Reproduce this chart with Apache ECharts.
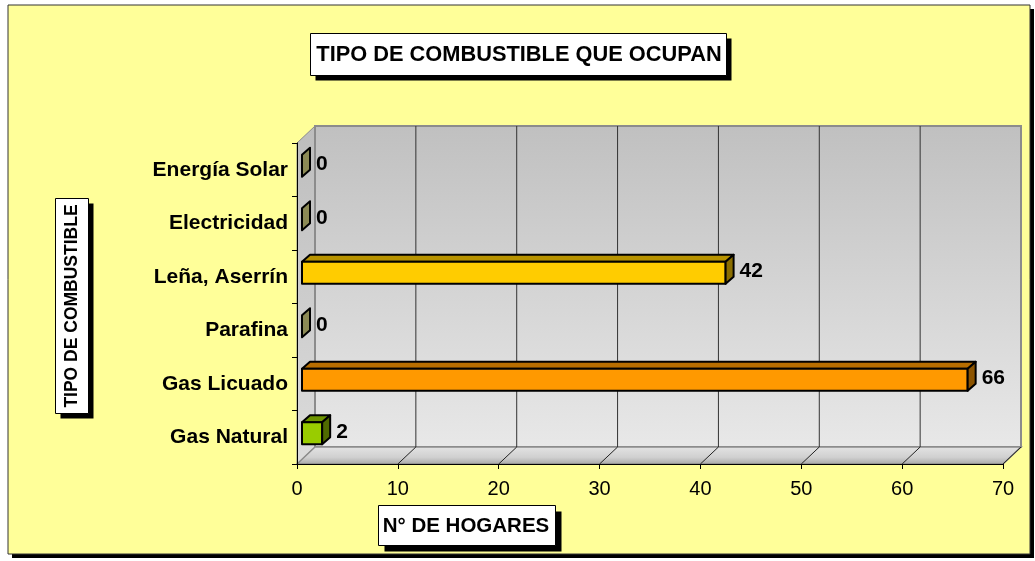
<!DOCTYPE html>
<html>
<head>
<meta charset="utf-8">
<script src="https://cdn.jsdelivr.net/npm/echarts@6/dist/echarts.min.js"></script>
<style>
  html, body { margin: 0; padding: 0; background: #fff; }
  #chart { width: 1035px; height: 561px; }
</style>
</head>
<body>
<div id="chart"></div>
<script>
// datos del gráfico
const categories = ["Gas Natural", "Gas Licuado", "Parafina", "Leña, Aserrín", "Electricidad", "Energía Solar"];
const hogares = [2, 66, 0, 42, 0, 0];
const xTicks = [0, 10, 20, 30, 40, 50, 60, 70];

const FONT = "'Liberation Sans', Arial, sans-serif";
// colores por categoria: frente, techo, lado
const frontColors = ["#99CC00", "#FF9900", "#C8C684", "#FFCC00", "#C8C684", "#C8C684"];
const topColors = ["#6E9400", "#B86E00", "#9C9A60", "#B89300", "#9C9A60", "#9C9A60"];
const sideColors = ["#4F6A00", "#8C5400", "#8C8A55", "#8A6E00", "#8C8A55", "#8C8A55"];

const WALL = [18, -17]; // profundidad del 3D
const BAR_OFF = [5, -4];
const BAR_DEPTH = [8, -7];
const BAR_H = 22;

let myChart = echarts.init(document.getElementById("chart"));

function boxWithShadow(x, y, w, h, off) {
  return [
    { type: "rect", z: 50, shape: { x: x + off, y: y + off, width: w, height: h }, style: { fill: "#000" } },
    { type: "rect", z: 51, shape: { x: x, y: y, width: w, height: h }, style: { fill: "#fff", stroke: "#000", lineWidth: 1 } },
  ];
}

myChart.setOption({
  backgroundColor: "#fff",
  animation: false,
  grid: {
    left: 297,
    right: 32,
    top: 143,
    bottom: 97,
  },
  graphic: [
    // fondo amarillo con sombra
    { type: "rect", z: -20, shape: { x: 12, y: 9, width: 1022, height: 549 }, style: { fill: "#000" } },
    { type: "rect", z: -19, shape: { x: 8, y: 5, width: 1022, height: 549 }, style: { fill: "#FFFF99", stroke: "#333", lineWidth: 1 } },
    // titulo
    ...boxWithShadow(310.5, 33.5, 416, 42, 5),
    { type: "text", z: 52, x: 519, y: 55, style: { text: "TIPO DE COMBUSTIBLE QUE OCUPAN", font: "bold 21.8px " + FONT, fill: "#000", align: "center", verticalAlign: "middle" } },
    // titulo eje y
    ...boxWithShadow(55.5, 198.5, 33, 215, 5),
    { type: "text", z: 52, x: 72, y: 306, rotation: Math.PI / 2, style: { text: "TIPO DE COMBUSTIBLE", font: "bold 17.5px " + FONT, fill: "#000", align: "center", verticalAlign: "middle" } },
    // titulo eje x
    ...boxWithShadow(378.5, 505.5, 177, 40, 6),
    { type: "text", z: 52, x: 466, y: 526, style: { text: "N° DE HOGARES", font: "bold 20.5px " + FONT, fill: "#000", align: "center", verticalAlign: "middle" } },
  ],
  xAxis: {
    type: "value",
    min: 0,
    max: 70,
    interval: 10,
    z: 10,
    splitLine: { show: false },
    axisLine: { show: true, lineStyle: { color: "#000", width: 1 } },
    axisTick: { show: true, length: 5, lineStyle: { color: "#000" } },
    axisLabel: { margin: 15, fontFamily: FONT, fontSize: 20, color: "#000" },
  },
  yAxis: {
    type: "category",
    data: categories,
    z: 10,
    axisLine: { show: true, lineStyle: { color: "#000", width: 1 } },
    axisTick: { show: true, length: 5, lineStyle: { color: "#000" } },
    axisLabel: {
      margin: 9,
      fontFamily: FONT,
      fontSize: 21,
      fontWeight: "bold",
      color: "#000",
      padding: [0, 0, 12, 0],
    },
  },
  series: [
    {
      // paredes del grafico 3D
      type: "custom",
      z: 1,
      silent: true,
      clip: false,
      data: [[0, 0]],
      renderItem: function (params, api) {
        const cs = params.coordSys;
        const L = cs.x, T = cs.y, R = cs.x + cs.width, B = cs.y + cs.height;
        const dx = WALL[0], dy = WALL[1];
        const children = [];
        // pared lateral
        children.push({
          type: "polygon",
          shape: { points: [[L, T], [L + dx, T + dy], [L + dx, B + dy], [L, B]] },
          style: {
            fill: new echarts.graphic.LinearGradient(0, 0, 0, 1, [
              { offset: 0, color: "#BDBDBD" },
              { offset: 1, color: "#DCDCDC" },
            ]),
            stroke: "#8C8C8C",
            lineWidth: 1,
          },
        });
        // pared de fondo
        children.push({
          type: "rect",
          shape: { x: L + dx, y: T + dy, width: R - L, height: B - T },
          style: {
            fill: new echarts.graphic.LinearGradient(0, 0, 0, 1, [
              { offset: 0, color: "#C0C0C0" },
              { offset: 1, color: "#E8E8E8" },
            ]),
            stroke: "#8C8C8C",
            lineWidth: 2,
          },
        });
        // piso
        children.push({
          type: "polygon",
          shape: { points: [[L, B], [L + dx, B + dy], [R + dx, B + dy], [R, B]] },
          style: {
            fill: new echarts.graphic.LinearGradient(0, 0, 0, 1, [
              { offset: 0, color: "#E4E4E4" },
              { offset: 0.6, color: "#D0D0D0" },
              { offset: 1, color: "#A6A6A6" },
            ]),
            stroke: "#8C8C8C",
            lineWidth: 1.5,
          },
        });
        xTicks.forEach(function (v) {
          const x = api.coord([v, 0])[0];
          if (v > 0 && v < 70) {
            children.push({
              type: "line",
              shape: { x1: x + dx, y1: T + dy, x2: x + dx, y2: B + dy },
              style: { stroke: "#333", lineWidth: 1 },
            });
          }
          if (v > 0) {
            children.push({
              type: "line",
              shape: { x1: x, y1: B, x2: x + dx, y2: B + dy },
              style: { stroke: "#222", lineWidth: 1 },
            });
          }
        });
        return { type: "group", children: children };
      },
    },
    {
      // barras 3D
      type: "custom",
      z: 3,
      clip: false,
      data: hogares.map(function (v, i) { return [v, i]; }),
      renderItem: function (params, api) {
        const v = api.value(0);
        const i = api.value(1);
        const p0 = api.coord([0, i]);
        const p1 = api.coord([v, i]);
        const cy = p0[1] + BAR_OFF[1];
        const x0 = p0[0] + BAR_OFF[0];
        const x1 = p1[0] + BAR_OFF[0];
        const yt = cy - BAR_H / 2, yb = cy + BAR_H / 2;
        const dx = BAR_DEPTH[0], dy = BAR_DEPTH[1];
        const line = { stroke: "#000", lineWidth: 2, lineJoin: "round" };
        const children = [];
        if (x1 - x0 > 0.5) {
          children.push({
            type: "polygon",
            shape: { points: [[x0, yt], [x0 + dx, yt + dy], [x1 + dx, yt + dy], [x1, yt]] },
            style: Object.assign({ fill: topColors[i] }, line),
          });
          children.push({
            type: "rect",
            shape: { x: x0, y: yt, width: x1 - x0, height: BAR_H },
            style: Object.assign({ fill: frontColors[i] }, line),
          });
        }
        children.push({
          type: "polygon",
          shape: { points: [[x1, yt], [x1 + dx, yt + dy], [x1 + dx, yb + dy], [x1, yb]] },
          style: Object.assign({ fill: sideColors[i] }, line),
        });
        children.push({
          type: "text",
          x: x1 + dx + 6,
          y: cy - 1.5,
          style: {
            text: String(v),
            font: "bold 21px " + FONT,
            fill: "#000",
            align: "left",
            verticalAlign: "middle",
          },
        });
        return { type: "group", children: children };
      },
    },
  ],
});
window.addEventListener("resize", () => {
  myChart.resize();
});
</script>
</body>
</html>
